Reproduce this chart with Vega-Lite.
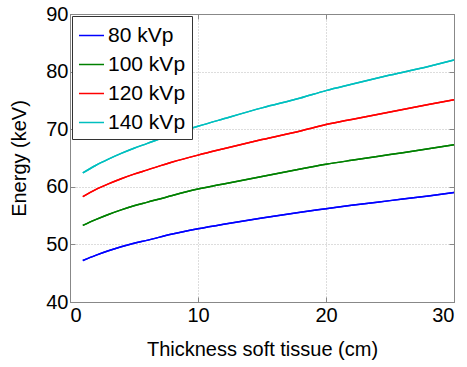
{
  "$schema": "https://vega.github.io/schema/vega-lite/v6.json",
  "width": 384,
  "height": 288,
  "autosize": {"type": "none"},
  "padding": {"left": 70, "top": 14, "right": 13, "bottom": 65},
  "background": "white",
  "config": {
    "font": "Liberation Sans",
    "view": {"stroke": "#888888", "strokeWidth": 1},
    "axis": {
      "labelFont": "Liberation Sans",
      "titleFont": "Liberation Sans",
      "labelFontSize": 20,
      "titleFontSize": 20,
      "labelColor": "black",
      "titleColor": "black",
      "titleFontWeight": "normal",
      "domainColor": "#888888",
      "tickColor": "#888888",
      "tickSize": -5,
      "gridColor": "#bbbbbb",
      "gridDash": [1, 2],
      "gridWidth": 1
    },
    "legend": {
      "orient": "top-left",
      "offset": 2,
      "strokeColor": "#333333",
      "fillColor": "white",
      "padding": 6,
      "symbolType": "stroke",
      "symbolSize": 625,
      "symbolStrokeWidth": 1.5,
      "labelFont": "Liberation Sans",
      "labelFontSize": 21,
      "labelColor": "black",
      "labelOffset": 3,
      "rowPadding": 5
    }
  },
  "data": {
    "values": [
      {"t": 1, "e": 47.2, "s": "80 kVp"}, {"t": 2, "e": 48.1, "s": "80 kVp"}, {"t": 3, "e": 48.9, "s": "80 kVp"}, {"t": 4, "e": 49.6, "s": "80 kVp"}, {"t": 5, "e": 50.2, "s": "80 kVp"}, {"t": 6, "e": 50.7, "s": "80 kVp"}, {"t": 8, "e": 51.8, "s": "80 kVp"}, {"t": 10, "e": 52.7, "s": "80 kVp"}, {"t": 12, "e": 53.5, "s": "80 kVp"}, {"t": 15, "e": 54.6, "s": "80 kVp"}, {"t": 18, "e": 55.6, "s": "80 kVp"}, {"t": 20, "e": 56.2, "s": "80 kVp"}, {"t": 22, "e": 56.8, "s": "80 kVp"}, {"t": 25, "e": 57.6, "s": "80 kVp"}, {"t": 28, "e": 58.4, "s": "80 kVp"}, {"t": 30, "e": 59.0, "s": "80 kVp"},
      {"t": 1, "e": 53.3, "s": "100 kVp"}, {"t": 2, "e": 54.3, "s": "100 kVp"}, {"t": 3, "e": 55.2, "s": "100 kVp"}, {"t": 4, "e": 56.0, "s": "100 kVp"}, {"t": 5, "e": 56.7, "s": "100 kVp"}, {"t": 6, "e": 57.3, "s": "100 kVp"}, {"t": 8, "e": 58.5, "s": "100 kVp"}, {"t": 10, "e": 59.6, "s": "100 kVp"}, {"t": 12, "e": 60.5, "s": "100 kVp"}, {"t": 15, "e": 61.8, "s": "100 kVp"}, {"t": 18, "e": 63.1, "s": "100 kVp"}, {"t": 20, "e": 63.9, "s": "100 kVp"}, {"t": 22, "e": 64.6, "s": "100 kVp"}, {"t": 25, "e": 65.6, "s": "100 kVp"}, {"t": 28, "e": 66.6, "s": "100 kVp"}, {"t": 30, "e": 67.3, "s": "100 kVp"},
      {"t": 1, "e": 58.3, "s": "120 kVp"}, {"t": 2, "e": 59.5, "s": "120 kVp"}, {"t": 3, "e": 60.5, "s": "120 kVp"}, {"t": 4, "e": 61.4, "s": "120 kVp"}, {"t": 5, "e": 62.2, "s": "120 kVp"}, {"t": 6, "e": 62.9, "s": "120 kVp"}, {"t": 8, "e": 64.3, "s": "120 kVp"}, {"t": 10, "e": 65.5, "s": "120 kVp"}, {"t": 12, "e": 66.6, "s": "120 kVp"}, {"t": 15, "e": 68.2, "s": "120 kVp"}, {"t": 18, "e": 69.7, "s": "120 kVp"}, {"t": 20, "e": 70.8, "s": "120 kVp"}, {"t": 22, "e": 71.7, "s": "120 kVp"}, {"t": 25, "e": 73.0, "s": "120 kVp"}, {"t": 28, "e": 74.3, "s": "120 kVp"}, {"t": 30, "e": 75.1, "s": "120 kVp"},
      {"t": 1, "e": 62.4, "s": "140 kVp"}, {"t": 2, "e": 63.7, "s": "140 kVp"}, {"t": 3, "e": 64.8, "s": "140 kVp"}, {"t": 4, "e": 65.8, "s": "140 kVp"}, {"t": 5, "e": 66.7, "s": "140 kVp"}, {"t": 6, "e": 67.5, "s": "140 kVp"}, {"t": 8, "e": 69.1, "s": "140 kVp"}, {"t": 10, "e": 70.5, "s": "140 kVp"}, {"t": 12, "e": 71.8, "s": "140 kVp"}, {"t": 15, "e": 73.7, "s": "140 kVp"}, {"t": 18, "e": 75.4, "s": "140 kVp"}, {"t": 20, "e": 76.7, "s": "140 kVp"}, {"t": 22, "e": 77.8, "s": "140 kVp"}, {"t": 25, "e": 79.4, "s": "140 kVp"}, {"t": 28, "e": 80.9, "s": "140 kVp"}, {"t": 30, "e": 82.0, "s": "140 kVp"}
    ]
  },
  "resolve": {"scale": {"x": "independent", "y": "independent"}, "axis": {"x": "independent", "y": "independent"}},
  "layer": [
    {
      "mark": {"type": "line", "strokeWidth": 1.5, "interpolate": "monotone"},
      "encoding": {
        "x": {
          "field": "t", "type": "quantitative",
          "scale": {"domain": [0, 30], "nice": false},
          "axis": {"orient": "bottom", "values": [0, 10, 20, 30], "grid": true, "title": "Thickness soft tissue (cm)", "titlePadding": 14, "labelPadding": 8}
        },
        "y": {
          "field": "e", "type": "quantitative",
          "scale": {"domain": [40, 90], "nice": false, "zero": false},
          "axis": {"orient": "left", "values": [40, 50, 60, 70, 80, 90], "grid": true, "title": "Energy (keV)", "titlePadding": 16, "labelPadding": 7}
        },
        "color": {
          "field": "s", "type": "nominal",
          "sort": ["80 kVp", "100 kVp", "120 kVp", "140 kVp"],
          "scale": {"domain": ["80 kVp", "100 kVp", "120 kVp", "140 kVp"], "range": ["#0000ff", "#008000", "#ff0000", "#00bfbf"]},
          "legend": {"title": null}
        }
      }
    },
    {
      "mark": {"type": "line", "strokeWidth": 1.5, "interpolate": "monotone"},
      "encoding": {
        "x": {
          "field": "t", "type": "quantitative",
          "scale": {"domain": [0, 30], "nice": false},
          "axis": {"orient": "top", "values": [0, 10, 20, 30], "labels": false, "title": null, "grid": false}
        },
        "y": {
          "field": "e", "type": "quantitative",
          "scale": {"domain": [40, 90], "nice": false, "zero": false},
          "axis": {"orient": "right", "values": [40, 50, 60, 70, 80, 90], "labels": false, "title": null, "grid": false}
        },
        "color": {
          "field": "s", "type": "nominal",
          "sort": ["80 kVp", "100 kVp", "120 kVp", "140 kVp"],
          "scale": {"domain": ["80 kVp", "100 kVp", "120 kVp", "140 kVp"], "range": ["#0000ff", "#008000", "#ff0000", "#00bfbf"]},
          "legend": {"title": null}
        }
      }
    }
  ]
}
